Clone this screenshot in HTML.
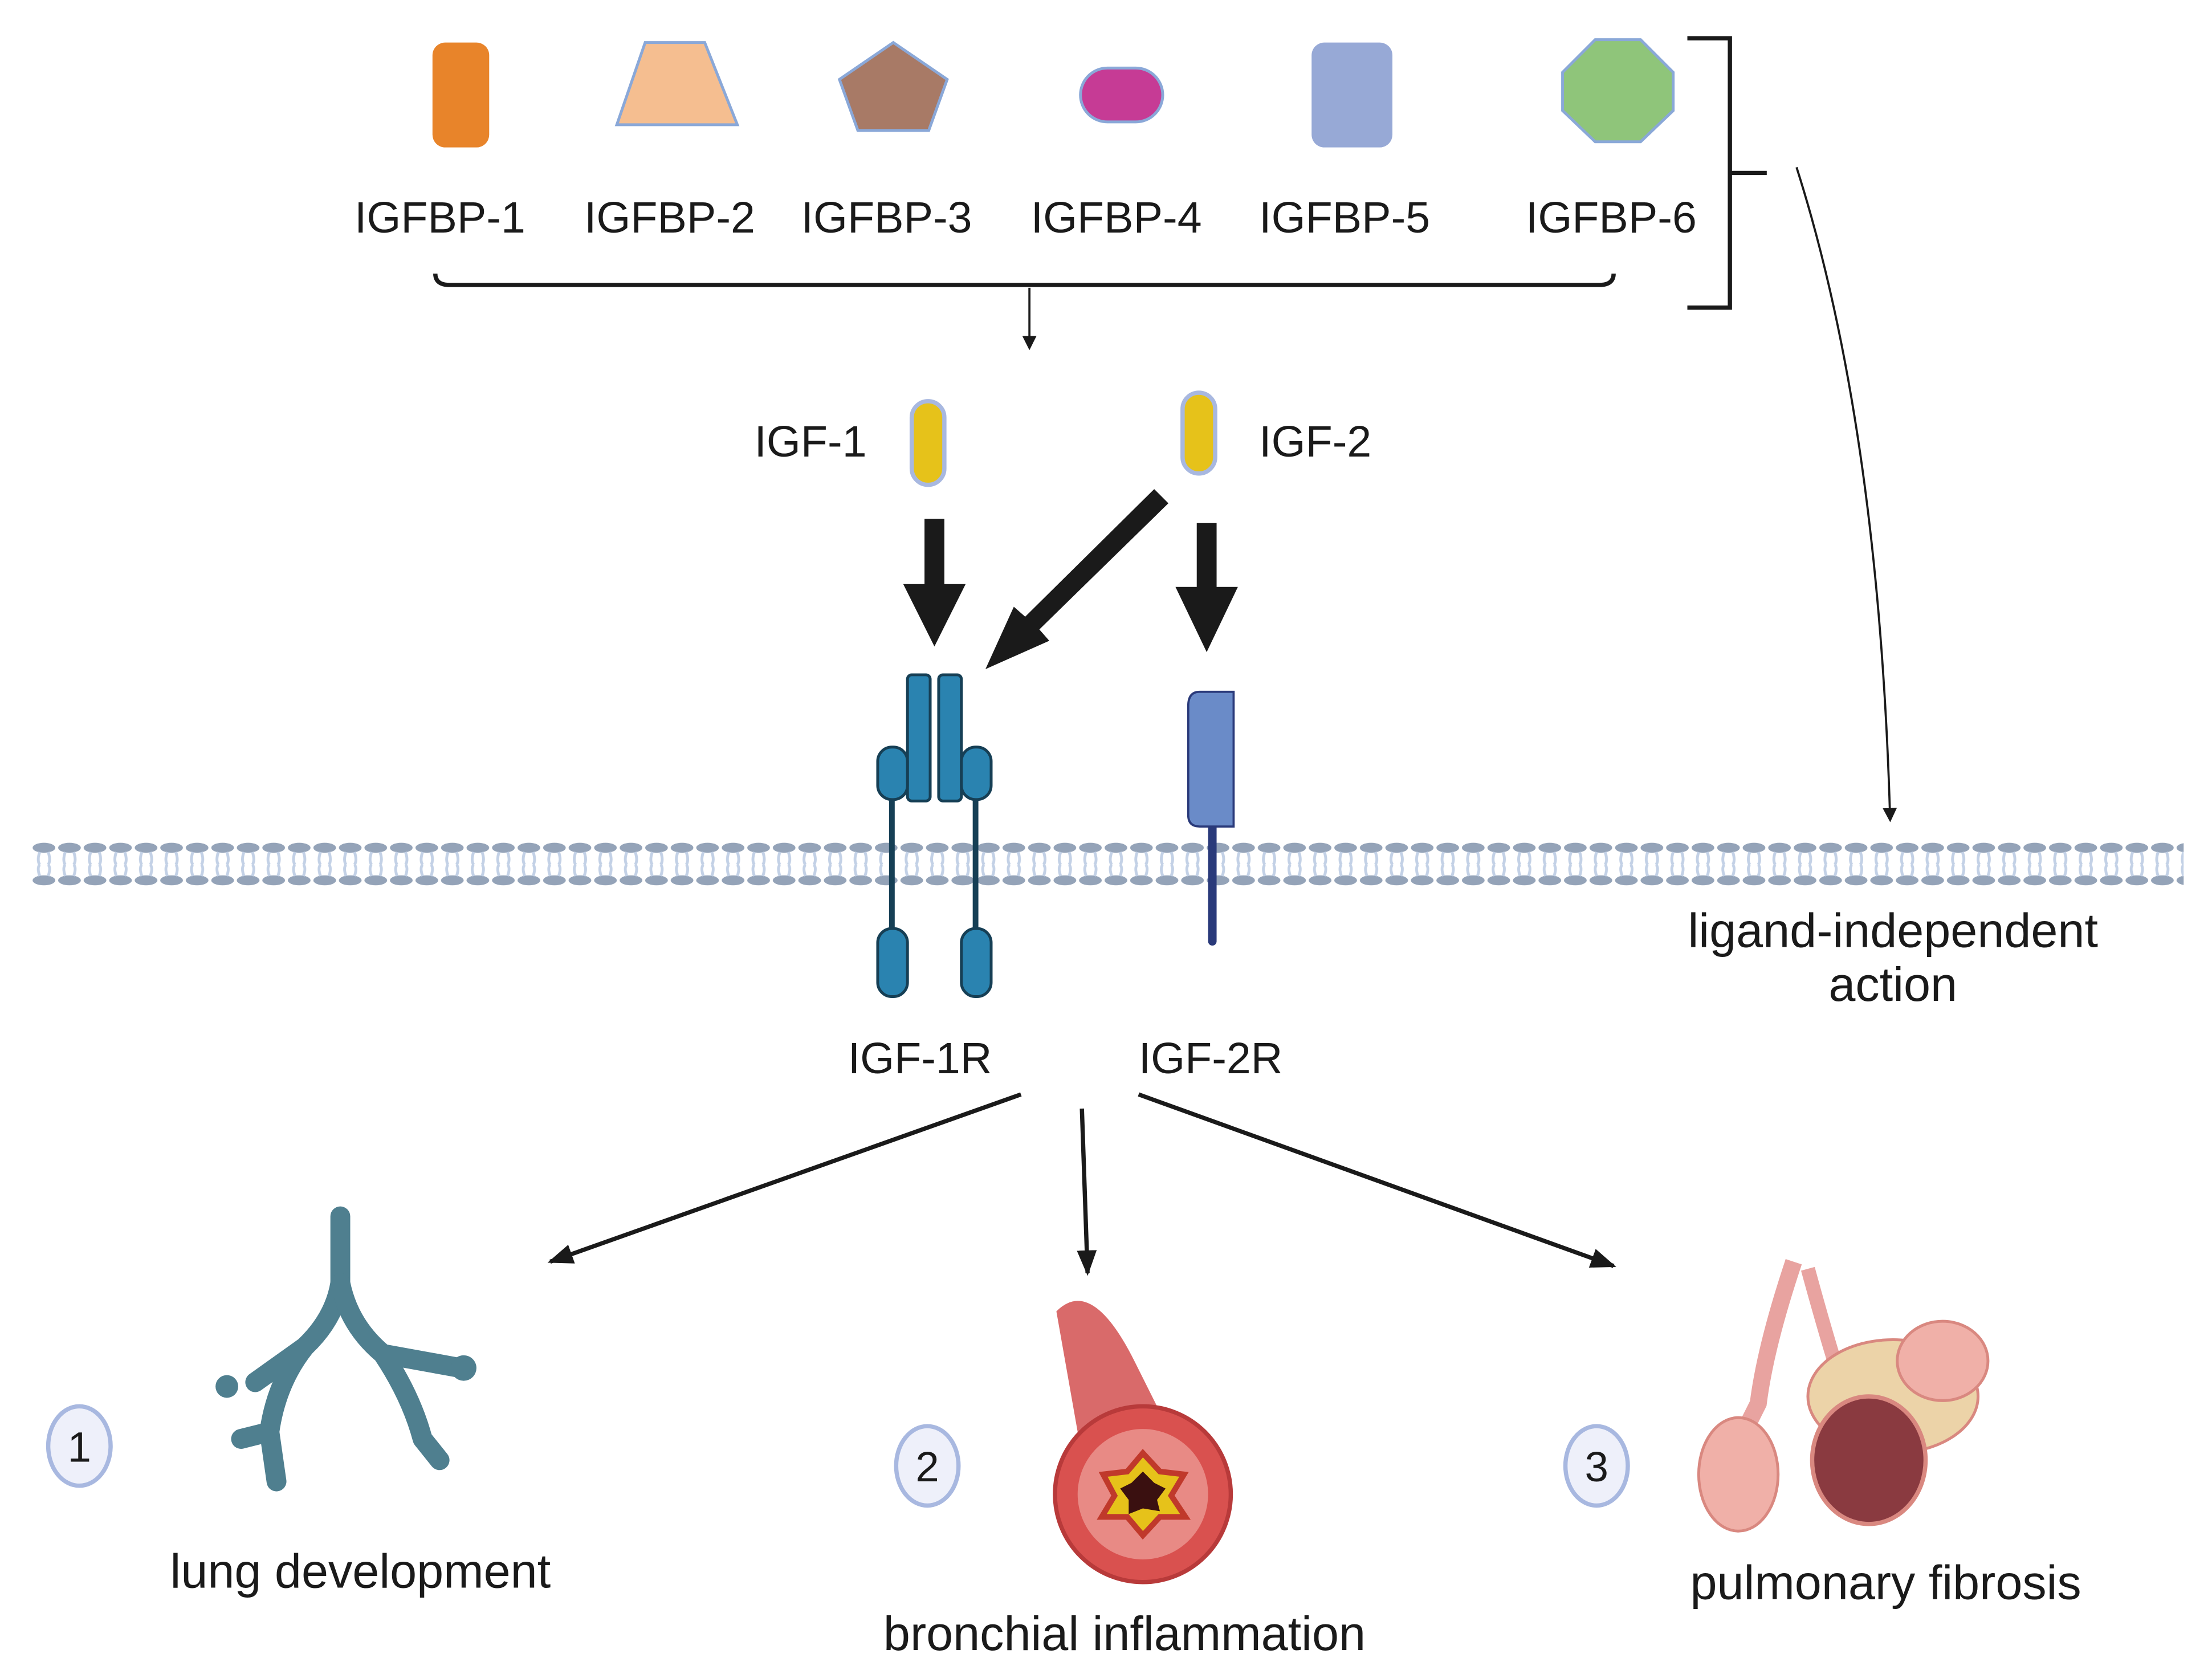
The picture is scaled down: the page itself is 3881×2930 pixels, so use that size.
<!DOCTYPE html>
<html><head><meta charset="utf-8"><style>
html,body{margin:0;padding:0;background:#fff;width:3881px;height:2930px;overflow:hidden}
svg{display:block}
text{font-family:"Liberation Sans",sans-serif;fill:#1a1a1a}
</style></head><body>
<svg width="3881" height="2930" viewBox="0 0 1560 1178" preserveAspectRatio="none" xmlns="http://www.w3.org/2000/svg">
<defs>
<pattern id="mem" x="22" y="0" width="18" height="1178" patternUnits="userSpaceOnUse">
<ellipse cx="9" cy="598" rx="8" ry="3.5" fill="#94a3b8"/>
<ellipse cx="9" cy="621" rx="8" ry="3.5" fill="#94a3b8"/>
<path d="M6 601 Q4 607 6 610 M12 601 Q14 607 12 610 M6 618 Q4 612 6 610 M12 618 Q14 612 12 610" stroke="#c3d1e6" stroke-width="2" fill="none"/>
</pattern>
<marker id="ah" markerWidth="10" markerHeight="10" refX="8" refY="5" orient="auto" markerUnits="userSpaceOnUse"><path d="M0,0 L10,5 L0,10 Z" fill="#1a1a1a"/></marker>
<marker id="ah2" markerWidth="18" markerHeight="14" refX="16" refY="7" orient="auto" markerUnits="userSpaceOnUse"><path d="M0,0 L18,7 L0,14 Z" fill="#1a1a1a"/></marker>
</defs>
<rect width="1560" height="1178" fill="#fff"/>
<rect x="305" y="30" width="40" height="74" rx="9" fill="#e8842a"/>
<polygon points="455,30 497,30 520,88 435,88" fill="#f5be90" stroke="#8aa8d8" stroke-width="2"/>
<polygon points="630,30 668,56 655,92 605,92 592,56" fill="#a87a66" stroke="#8aa8d8" stroke-width="2"/>
<rect x="762" y="48" width="58" height="38" rx="19" fill="#c63b95" stroke="#8aa8d8" stroke-width="2"/>
<rect x="925" y="30" width="57" height="74" rx="9" fill="#97a9d6"/>
<polygon points="1125,28 1157,28 1180,51 1180,78 1157,100 1125,100 1102,78 1102,51" fill="#8fc57a" stroke="#8aa8d8" stroke-width="2"/>
<g font-size="31">
<text x="250" y="164">IGFBP-1</text>
<text x="412" y="164">IGFBP-2</text>
<text x="565" y="164">IGFBP-3</text>
<text x="727" y="164">IGFBP-4</text>
<text x="888" y="164">IGFBP-5</text>
<text x="1076" y="164">IGFBP-6</text>
</g>
<path d="M307 193 Q307 201 317 201 L1128 201 Q1138 201 1138 193" stroke="#1a1a1a" stroke-width="3" fill="none"/>
<line x1="726" y1="203" x2="726" y2="245" stroke="#1a1a1a" stroke-width="1.5" marker-end="url(#ah)"/>
<path d="M1190 27 L1220 27 L1220 217 L1190 217 M1220 122 L1246 122" stroke="#1a1a1a" stroke-width="3" fill="none"/>
<path d="M1267 118 Q1325 300 1333 578" stroke="#1a1a1a" stroke-width="1.5" fill="none" marker-end="url(#ah)"/>
<text x="532" y="322" font-size="31">IGF-1</text>
<rect x="643" y="283" width="23" height="59" rx="11.5" fill="#e6c21a" stroke="#a8b8e0" stroke-width="3"/>
<rect x="834" y="277" width="23" height="57" rx="11.5" fill="#e6c21a" stroke="#a8b8e0" stroke-width="3"/>
<text x="888" y="322" font-size="31">IGF-2</text>
<polygon points="652,366 666,366 666,412 681,412 659,456 637,412 652,412" fill="#1a1a1a"/>
<polygon points="844,369 858,369 858,414 873,414 851,460 829,414 844,414" fill="#1a1a1a"/>
<polygon points="814,345 824,355 733,444 740,452 695,472 715,428 723,435" fill="#1a1a1a"/>
<rect x="22" y="590" width="1518" height="36" fill="url(#mem)"/>
<g stroke="#163f55" stroke-width="2" fill="#2a83b0">
<line x1="629" y1="560" x2="629" y2="660" stroke-width="4"/>
<line x1="688" y1="560" x2="688" y2="660" stroke-width="4"/>
<rect x="640" y="476" width="16" height="89" rx="3"/>
<rect x="662" y="476" width="16" height="89" rx="3"/>
<rect x="619" y="527" width="21" height="37" rx="10"/>
<rect x="678" y="527" width="21" height="37" rx="10"/>
<rect x="619" y="655" width="21" height="48" rx="10"/>
<rect x="678" y="655" width="21" height="48" rx="10"/>
</g>
<line x1="855" y1="580" x2="855" y2="664" stroke="#2a3a7a" stroke-width="6" stroke-linecap="round"/>
<path d="M870 488 L846 488 Q838 488 838 498 L838 575 Q838 583 846 583 L870 583 Z" fill="#6a8bc8" stroke="#2a3a7a" stroke-width="1.5"/>
<g font-size="31">
<text x="598" y="757">IGF-1R</text>
<text x="803" y="757">IGF-2R</text>
</g>
<g font-size="34">
<text x="1335" y="668" text-anchor="middle">ligand-independent</text>
<text x="1335" y="706" text-anchor="middle">action</text>
</g>
<g stroke="#1a1a1a" stroke-width="3" fill="none">
<line x1="720" y1="772" x2="388" y2="890" marker-end="url(#ah2)"/>
<line x1="763" y1="782" x2="767" y2="898" marker-end="url(#ah2)"/>
<line x1="803" y1="772" x2="1138" y2="893" marker-end="url(#ah2)"/>
</g>
<g fill="#eef0fa" stroke="#a8b8e0" stroke-width="3">
<ellipse cx="56" cy="1020" rx="22" ry="28"/>
<ellipse cx="654" cy="1034" rx="22" ry="28"/>
<ellipse cx="1126" cy="1034" rx="22" ry="28"/>
</g>
<g font-size="30" text-anchor="middle">
<text x="56" y="1031">1</text><text x="654" y="1045">2</text><text x="1126" y="1045">3</text>
</g>
<g stroke="#4f7f8f" stroke-linecap="round" stroke-linejoin="round" fill="none">
<path d="M240 858 L240 905 Q236 930 215 950 L180 975 M215 950 Q195 975 190 1010 L195 1045 M190 1010 L170 1015" stroke-width="14"/>
<path d="M240 905 Q246 935 270 955 L325 965 M270 955 Q290 985 298 1015 L310 1030" stroke-width="14"/>
<circle cx="160" cy="978" r="8" fill="#4f7f8f" stroke="none"/>
<circle cx="327" cy="965" r="9" fill="#4f7f8f" stroke="none"/>
</g>
<path d="M745 925 Q770 900 800 960 L820 1000 L760 1010 Z" fill="#d96a6a"/>
<circle cx="806" cy="1054" r="62" fill="#d9514f" stroke="#b83a3a" stroke-width="3"/>
<circle cx="806" cy="1054" r="46" fill="#e88a85"/>
<polygon points="806,1025 818,1038 835,1040 826,1055 836,1070 818,1070 806,1083 795,1070 777,1070 786,1055 778,1040 795,1038" fill="#e6c21a" stroke="#c0392b" stroke-width="4"/>
<polygon points="806,1038 814,1046 822,1050 816,1058 818,1066 806,1064 796,1068 796,1058 790,1050 798,1046" fill="#3a1010"/>
<path d="M1265 890 Q1245 950 1240 990 L1230 1010" stroke="#e8a3a0" stroke-width="12" fill="none"/>
<path d="M1275 895 Q1290 950 1300 980" stroke="#e8a3a0" stroke-width="10" fill="none"/>
<ellipse cx="1226" cy="1040" rx="28" ry="40" fill="#f0b0a8" stroke="#d98880" stroke-width="2"/>
<ellipse cx="1335" cy="985" rx="60" ry="40" fill="#ecd3a8" stroke="#d98880" stroke-width="2"/>
<ellipse cx="1370" cy="960" rx="32" ry="28" fill="#f0b0a8" stroke="#d98880" stroke-width="2"/>
<ellipse cx="1318" cy="1030" rx="40" ry="45" fill="#8a3a40" stroke="#d98880" stroke-width="3"/>
<text x="1192" y="1128" font-size="34">pulmonary fibrosis</text>
<text x="120" y="1120" font-size="34">lung development</text>
<text x="623" y="1164" font-size="34">bronchial inflammation</text>
</svg>
</body></html>
